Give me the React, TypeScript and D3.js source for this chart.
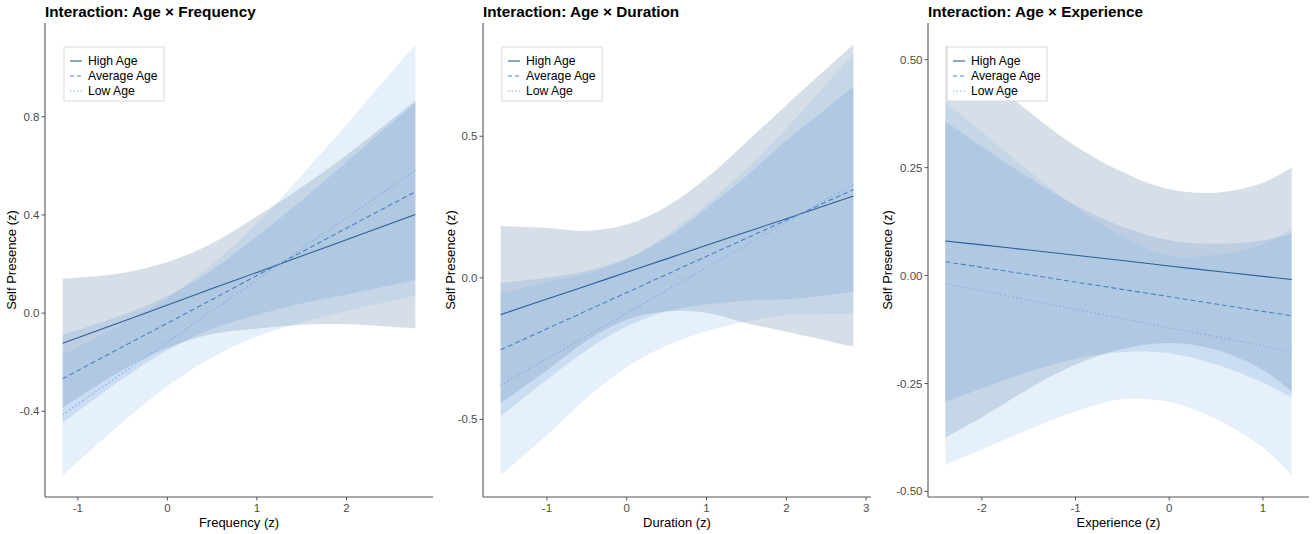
import * as d3 from 'd3';

// x positions where the fitted lines and ribbons were read: [lower, fit, upper]
const freqX = [-1.17, -0.5, 0, 0.5, 1, 1.5, 2, 2.77];
const freqHigh = [
    [-0.387, -0.123, 0.141], [-0.232, -0.034, 0.164], [-0.142, 0.033, 0.208], [-0.085, 0.1, 0.285],
    [-0.063, 0.166, 0.395], [-0.047, 0.233, 0.513], [-0.045, 0.299, 0.643], [-0.062, 0.402, 0.866],
];
const freqAvg = [
    [-0.447, -0.267, -0.087], [-0.267, -0.137, -0.007], [-0.151, -0.041, 0.069], [-0.064, 0.056, 0.176],
    [-0.007, 0.153, 0.313], [0.039, 0.249, 0.459], [0.076, 0.346, 0.616], [0.134, 0.495, 0.856],
];
const freqLow = [
    [-0.661, -0.414, -0.167], [-0.444, -0.244, -0.044], [-0.298, -0.118, 0.062], [-0.181, 0.009, 0.199],
    [-0.095, 0.135, 0.365], [-0.038, 0.262, 0.562], [0.008, 0.388, 0.768], [0.072, 0.583, 1.094],
];

const durX = [-1.58, -1, -0.5, 0, 0.5, 1, 1.5, 2, 2.84];
const durHigh = [
    [-0.443, -0.13, 0.183], [-0.326, -0.075, 0.176], [-0.222, -0.028, 0.166], [-0.148, 0.02, 0.188],
    [-0.118, 0.067, 0.252], [-0.123, 0.115, 0.353], [-0.16, 0.162, 0.48], [-0.19, 0.209, 0.61],
    [-0.243, 0.289, 0.824],
];
const durAvg = [
    [-0.49, -0.254, -0.018], [-0.36, -0.18, 0.0], [-0.256, -0.116, 0.024], [-0.172, -0.052, 0.068],
    [-0.118, 0.012, 0.142], [-0.094, 0.076, 0.246], [-0.08, 0.14, 0.36], [-0.076, 0.204, 0.484],
    [-0.05, 0.312, 0.674],
];
const durLow = [
    [-0.698, -0.378, -0.058], [-0.555, -0.285, -0.015], [-0.425, -0.205, 0.015], [-0.315, -0.125, 0.065],
    [-0.239, -0.044, 0.151], [-0.189, 0.036, 0.261], [-0.154, 0.116, 0.386], [-0.133, 0.197, 0.527],
    [-0.128, 0.331, 0.792],
];

const expX = [-2.39, -2, -1.5, -1, -0.5, 0, 0.5, 1, 1.307];
const expHigh = [
    [-0.375, 0.08, 0.535], [-0.328, 0.071, 0.47], [-0.262, 0.059, 0.38], [-0.206, 0.047, 0.3],
    [-0.17, 0.035, 0.24], [-0.156, 0.022, 0.2], [-0.172, 0.01, 0.192], [-0.219, -0.002, 0.215],
    [-0.268, -0.009, 0.25],
];
const expAvg = [
    [-0.293, 0.032, 0.357], [-0.261, 0.019, 0.299], [-0.223, 0.002, 0.227], [-0.193, -0.015, 0.163],
    [-0.177, -0.032, 0.113], [-0.18, -0.049, 0.082], [-0.206, -0.066, 0.074], [-0.248, -0.083, 0.082],
    [-0.283, -0.093, 0.097],
];
const expLow = [
    [-0.439, -0.019, 0.401], [-0.403, -0.035, 0.333], [-0.357, -0.057, 0.243], [-0.315, -0.078, 0.159],
    [-0.286, -0.099, 0.091], [-0.293, -0.121, 0.046], [-0.332, -0.142, 0.048], [-0.398, -0.163, 0.072],
    [-0.463, -0.177, 0.109],
];

const groups = ['High Age', 'Average Age', 'Low Age'];
const lineColors = ['#2d5d9a', '#4b80c0', '#7cb0e2'];
const fillColors = ['#325f8c', '#5a8ccc', '#82b4e6'];
const dashes = ['none', '5,3', '1.5,2.5'];
const keyDashes = ['none', '4,3', '1.5,2'];

const freqXTicks = [-1, 0, 1, 2];
const freqYTicks = [-0.4, 0, 0.4, 0.8];
const durXTicks = [-1, 0, 1, 2, 3];
const durYTicks = [-0.5, 0, 0.5];
const expXTicks = [-2, -1, 0, 1];
const expYTicks = [-0.5, -0.25, 0, 0.25, 0.5];

const FONT = '"Liberation Sans", Arial, Helvetica, sans-serif';

type Row = number[];

interface PanelProps {
    title: string;
    xLabel: string;
    xs: number[];
    series: Row[][];
    xTicks: number[];
    yTicks: number[];
    yDigits: number;
    left: number;
    right: number;
    yTitleX: number;
}

function expand(lo: number, hi: number): [number, number] {
    const pad = (hi - lo) * 0.05;
    return [lo - pad, hi + pad];
}

function Panel({ title, xLabel, xs, series, xTicks, yTicks, yDigits, left, right, yTitleX }: PanelProps) {
    const top = 23;
    const bottom = 497;
    const allY = series.flatMap(s => s.flatMap(r => [r[0], r[2]]));
    const x = d3.scaleLinear().domain(expand(d3.min(xs)!, d3.max(xs)!)).range([left, right]);
    const y = d3.scaleLinear().domain(expand(d3.min(allY)!, d3.max(allY)!)).range([bottom, top]);

    const area = d3.area<Row>()
        .x((_, i) => x(xs[i]))
        .y0(d => y(d[0]))
        .y1(d => y(d[2]))
        .curve(d3.curveCatmullRom);
    const line = d3.line<Row>()
        .x((_, i) => x(xs[i]))
        .y(d => y(d[1]))
        .curve(d3.curveCatmullRom);

    const axisColor = '#555';
    const tickColor = '#4d4d4d';
    const lx = left + 19;
    const ly = 47;

    return (
        <g>
            <text x={left} y={17} fontFamily={FONT} fontSize={15.3} fontWeight="bold" fill="#000">{title}</text>
            {series.map((s, i) => (
                <path key={'a' + i} d={area(s) || ''} fill={fillColors[i]} fillOpacity={0.2} stroke="none" />
            ))}
            {series.map((s, i) => (
                <path key={'l' + i} d={line(s) || ''} fill="none" stroke={lineColors[i]} strokeWidth={1.1}
                    strokeDasharray={dashes[i]} />
            ))}
            {/* axes */}
            <line x1={left} x2={left} y1={top} y2={bottom} stroke={axisColor} strokeWidth={1.1} />
            <line x1={left} x2={right} y1={bottom} y2={bottom} stroke={axisColor} strokeWidth={1.1} />
            {yTicks.map(t => (
                <g key={'y' + t}>
                    <line x1={left - 3.5} x2={left} y1={y(t)} y2={y(t)} stroke={axisColor} strokeWidth={1} />
                    <text x={left - 5.5} y={y(t)} dy="0.35em" textAnchor="end" fontFamily={FONT} fontSize={11.5}
                        fill={tickColor}>{t.toFixed(yDigits)}</text>
                </g>
            ))}
            {xTicks.map(t => (
                <g key={'x' + t}>
                    <line x1={x(t)} x2={x(t)} y1={bottom} y2={bottom + 3.5} stroke={axisColor} strokeWidth={1} />
                    <text x={x(t)} y={511.5} textAnchor="middle" fontFamily={FONT} fontSize={11.5}
                        fill={tickColor}>{t}</text>
                </g>
            ))}
            <text x={(left + right) / 2} y={527} textAnchor="middle" fontFamily={FONT} fontSize={13} fill="#000">{xLabel}</text>
            <text transform={`translate(${yTitleX},${(top + bottom) / 2}) rotate(-90)`} textAnchor="middle"
                fontFamily={FONT} fontSize={13} fill="#000">Self Presence (z)</text>
            {/* legend */}
            <rect x={lx} y={ly} width={100} height={54} fill="#fff" stroke="#d9d9d9" strokeWidth={1} />
            {groups.map((g, i) => (
                <g key={g}>
                    <line x1={lx + 6} x2={lx + 18} y1={ly + 14 + i * 15} y2={ly + 14 + i * 15}
                        stroke={lineColors[i]} strokeWidth={1.1} strokeDasharray={keyDashes[i]} />
                    <text x={lx + 24} y={ly + 14 + i * 15} dy="0.35em" fontFamily={FONT} fontSize={12.2} fill="#000">{g}</text>
                </g>
            ))}
        </g>
    );
}

export default function App() {
    return (
        <svg width={1315} height={534} style={{ position: 'absolute', left: 0, top: 0, background: '#fff' }}>
            <Panel title="Interaction: Age × Frequency" xLabel="Frequency (z)" xs={freqX}
                series={[freqHigh, freqAvg, freqLow]} xTicks={freqXTicks} yTicks={freqYTicks} yDigits={1}
                left={45} right={433} yTitleX={16} />
            <Panel title="Interaction: Age × Duration" xLabel="Duration (z)" xs={durX}
                series={[durHigh, durAvg, durLow]} xTicks={durXTicks} yTicks={durYTicks} yDigits={1}
                left={483} right={871} yTitleX={455} />
            <Panel title="Interaction: Age × Experience" xLabel="Experience (z)" xs={expX}
                series={[expHigh, expAvg, expLow]} xTicks={expXTicks} yTicks={expYTicks} yDigits={2}
                left={928} right={1309} yTitleX={892} />
        </svg>
    );
}
